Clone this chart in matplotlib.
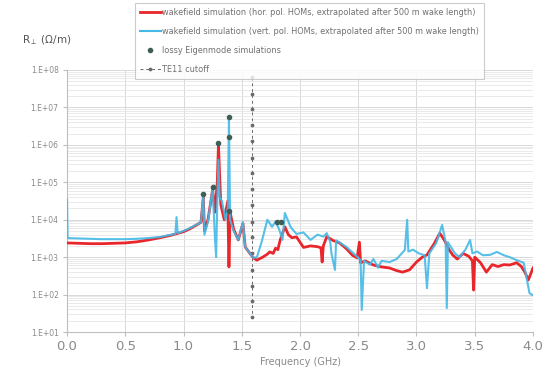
import numpy as np
import matplotlib
matplotlib.use("Agg")
import matplotlib.pyplot as plt
from matplotlib.lines import Line2D

# transverse impedance, stored as log10(R / (Ohm/m)) against frequency in GHz
hor_freq = [0.00, 0.10, 0.20, 0.30, 0.40, 0.50, 0.60, 0.70, 0.80, 0.90,
            1.00, 1.05, 1.10, 1.15, 1.17, 1.18, 1.21, 1.25, 1.27, 1.29,
            1.30, 1.32, 1.35, 1.38, 1.39, 1.40, 1.43, 1.47, 1.51, 1.53,
            1.57, 1.60, 1.63, 1.68, 1.72, 1.74, 1.77, 1.79, 1.81, 1.83,
            1.87, 1.90, 1.93, 1.97, 2.03, 2.09, 2.15, 2.18, 2.19, 2.20,
            2.23, 2.28, 2.34, 2.40, 2.45, 2.49, 2.51, 2.52, 2.56, 2.63,
            2.70, 2.77, 2.83, 2.88, 2.94, 3.00, 3.05, 3.09, 3.15, 3.20,
            3.24, 3.28, 3.31, 3.35, 3.40, 3.45, 3.48, 3.49, 3.50, 3.55,
            3.60, 3.65, 3.70, 3.75, 3.80, 3.86, 3.90, 3.93, 3.96, 4.00]
hor_log10 = [3.38, 3.37, 3.36, 3.36, 3.37, 3.38, 3.41, 3.46, 3.52, 3.59,
             3.68, 3.75, 3.84, 3.93, 4.60, 3.70, 4.00, 4.80, 4.20, 5.00,
             6.00, 4.40, 4.00, 4.50, 2.74, 4.20, 3.75, 3.46, 3.90, 3.27,
             3.10, 2.98, 2.92, 3.00, 3.08, 3.14, 3.10, 3.24, 3.20, 3.46,
             3.81, 3.60, 3.52, 3.54, 3.26, 3.30, 3.28, 3.25, 2.87, 3.30,
             3.55, 3.45, 3.38, 3.22, 3.05, 2.98, 3.40, 2.85, 2.90, 2.79,
             2.74, 2.71, 2.64, 2.60, 2.66, 2.87, 3.00, 3.06, 3.35, 3.64,
             3.45, 3.20, 3.06, 2.95, 3.10, 3.02, 2.90, 2.12, 3.00, 2.85,
             2.60, 2.80, 2.75, 2.80, 2.79, 2.85, 2.75, 2.60, 2.39, 2.71]

vert_freq = [0.000, 0.005, 0.10, 0.20, 0.30, 0.40, 0.50, 0.60, 0.70, 0.80,
             0.88, 0.93, 0.94, 0.95, 1.00, 1.05, 1.10, 1.15, 1.17, 1.18,
             1.21, 1.25, 1.27, 1.28, 1.29, 1.30, 1.31, 1.33, 1.36, 1.38,
             1.39, 1.40, 1.43, 1.47, 1.51, 1.53, 1.57, 1.60, 1.63, 1.67,
             1.72, 1.76, 1.79, 1.82, 1.85, 1.87, 1.92, 1.97, 2.03, 2.09,
             2.15, 2.20, 2.23, 2.26, 2.27, 2.30, 2.31, 2.36, 2.40, 2.46,
             2.52, 2.53, 2.55, 2.60, 2.63, 2.67, 2.70, 2.77, 2.83, 2.90,
             2.92, 2.93, 2.97, 3.02, 3.07, 3.09, 3.11, 3.17, 3.22, 3.25,
             3.26, 3.27, 3.33, 3.37, 3.42, 3.46, 3.48, 3.52, 3.57, 3.63,
             3.69, 3.75, 3.80, 3.86, 3.92, 3.97, 4.00]
vert_log10 = [4.53, 3.51, 3.50, 3.49, 3.48, 3.48, 3.48, 3.49, 3.51, 3.54,
              3.59, 3.62, 4.07, 3.64, 3.70, 3.77, 3.85, 3.93, 4.65, 3.60,
              3.95, 4.85, 3.50, 3.00, 4.50, 5.60, 4.60, 4.50, 4.00, 4.30,
              6.74, 4.00, 3.70, 3.46, 3.94, 3.27, 3.10, 2.98, 3.00, 3.40,
              4.00, 3.81, 3.95, 3.75, 3.46, 4.18, 3.80, 3.62, 3.66, 3.46,
              3.60, 3.55, 3.64, 3.40, 3.10, 2.66, 3.45, 3.35, 3.27, 3.10,
              2.92, 1.59, 2.90, 2.80, 2.95, 2.72, 2.90, 2.87, 2.95, 3.19,
              4.00, 3.15, 3.20, 3.10, 3.05, 2.17, 3.10, 3.38, 3.86, 3.40,
              1.64, 3.40, 3.10, 3.00, 3.20, 3.46, 3.10, 3.15, 3.05, 3.06,
              3.14, 3.05, 3.00, 2.92, 2.85, 2.04, 1.98]

# lossy eigenmode results
eig_freq = [1.17, 1.25, 1.30, 1.39, 1.39, 1.39, 1.80, 1.84]
eig_log10 = [4.69, 4.87, 6.05, 6.74, 6.21, 4.23, 3.94, 3.94]

# TE11 cutoff marker series
cutoff_freq = 1.59
cutoff_log10 = [7.80, 7.37, 6.95, 6.52, 6.09, 5.66, 5.24, 4.81,
                4.38, 3.95, 3.53, 3.10, 2.67, 2.24, 1.82, 1.39]

x_ticks = [0.0, 0.5, 1.0, 1.5, 2.0, 2.5, 3.0, 3.5, 4.0]
y_ticks = [1e1, 1e2, 1e3, 1e4, 1e5, 1e6, 1e7, 1e8]
y_ticklabels = ["1.E+01", "1.E+02", "1.E+03", "1.E+04",
                "1.E+05", "1.E+06", "1.E+07", "1.E+08"]

red = "#e8262b"
blue = "#45b9e6"
dot = "#3f5e55"
grey = "#8a8a8a"
cut_col = "#6a6a6a"

fig = plt.figure(figsize=(5.48, 3.68), dpi=100)
ax = fig.add_axes([0.1223, 0.0978, 0.8503, 0.712])

ax.plot(hor_freq, 10 ** np.array(hor_log10), color=red, lw=2.0, zorder=3)
ax.plot(vert_freq, 10 ** np.array(vert_log10), color=blue, lw=1.5,
        alpha=0.9, zorder=4)
ax.plot(eig_freq, 10 ** np.array(eig_log10), ls="none", marker="o", ms=3.0,
        color=dot, zorder=5)
ax.plot([cutoff_freq] * len(cutoff_log10), 10 ** np.array(cutoff_log10),
        ls=(0, (3, 3)), lw=0.7, marker="o", ms=1.7, color=cut_col, zorder=2)

ax.set_yscale("log")
ax.set_xlim(0, 4)
ax.set_ylim(1e1, 1e8)
ax.set_xticks(x_ticks)
ax.set_xticklabels([f"{v:.1f}" for v in x_ticks], fontsize=9.5, color=grey)
ax.set_yticks(y_ticks)
ax.set_yticklabels(y_ticklabels, fontsize=5.5, color=grey)
ax.yaxis.set_minor_locator(matplotlib.ticker.LogLocator(base=10, subs=np.arange(2, 10)))
ax.yaxis.set_minor_formatter(matplotlib.ticker.NullFormatter())

ax.grid(True, which="major", axis="both", color="#d9d9d9", lw=0.7)
ax.grid(True, which="minor", axis="y", color="#e6e6e6", lw=0.6)
ax.set_axisbelow(True)
for s in ["top", "right"]:
    ax.spines[s].set_visible(False)
for s in ["left", "bottom"]:
    ax.spines[s].set_color("#bfbfbf")
ax.tick_params(axis="both", which="major", length=3, color="#bfbfbf", pad=3)
ax.tick_params(axis="y", which="minor", length=0)

fig.text(22 / 548, 1 - 40 / 368, r"R$_{\perp}$ (Ω/m)", fontsize=7.5,
         color="#555555", va="center")
fig.text(300 / 548, 1 / 368, "Frequency (GHz)", fontsize=7,
         color=grey, ha="center", va="bottom")

handles = [
    Line2D([], [], color=red, lw=2.0),
    Line2D([], [], color=blue, lw=1.5),
    Line2D([], [], ls="none", marker="o", ms=3, color=dot),
    Line2D([], [], ls=(0, (3, 3)), lw=0.7, marker="o", ms=1.7, color=cut_col,
           markevery=[1]),
]
labels = [
    "wakefield simulation (hor. pol. HOMs, extrapolated after 500 m wake length)",
    "wakefield simulation (vert. pol. HOMs, extrapolated after 500 m wake length)",
    "lossy Eigenmode simulations",
    "TE11 cutoff",
]
leg = fig.legend(handles, labels, loc="upper left",
                 bbox_to_anchor=(135 / 548, 1 - 3 / 368), fontsize=5.9,
                 frameon=True, fancybox=False, handlelength=2.6,
                 handletextpad=0.2, labelspacing=1.25, borderpad=0.55,
                 borderaxespad=0)
leg.get_frame().set_edgecolor("#bfbfbf")
leg.get_frame().set_linewidth(0.8)
for t in leg.get_texts():
    t.set_color("#707070")

fig.savefig("out.png", dpi=100)
